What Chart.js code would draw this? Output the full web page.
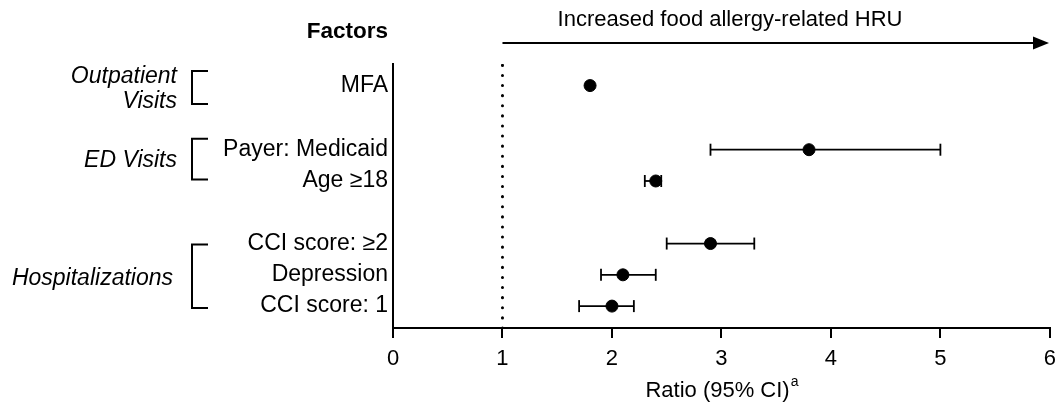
<!DOCTYPE html>
<html>
<head>
<meta charset="utf-8">
<script src="https://cdn.jsdelivr.net/npm/chart.js@4.4.1/dist/chart.umd.min.js"></script>
<style>
  html, body { margin: 0; padding: 0; background: #fff; }
  #wrap { width: 1064px; height: 410px; position: relative; }
</style>
</head>
<body>
<div id="wrap"><canvas id="forest"></canvas></div>
<script>
// rows, bottom to top (y position on a linear scale, gaps between groups)
const factors = ['CCI score: 1', 'Depression', 'CCI score: ≥2', 'Age ≥18', 'Payer: Medicaid', 'MFA'];
const rowPos  = [0, 1, 2, 4, 5, 7.05];
const ratio   = [2.0, 2.1, 2.9, 2.4, 3.8, 1.8];
const ciLow   = [1.7, 1.9, 2.5, 2.3, 2.9, null];
const ciHigh  = [2.2, 2.4, 3.3, 2.45, 5.0, null];
const xTicks  = [0, 1, 2, 3, 4, 5, 6];

// groups of rows for the brackets on the left
const groupNames = [['Outpatient', 'Visits'], ['ED Visits'], ['Hospitalizations']];
const groupFrom  = [6.46, 4.05, -0.06];
const groupTo    = [7.52, 5.35, 1.97];

const FONT = '"Liberation Sans", Arial, sans-serif';
const refValue = 1;

const datasets = [];
datasets.push({
    type: 'scatter',
    data: ratio.map((v, i) => ({ x: v, y: rowPos[i] })),
    backgroundColor: '#000',
    borderColor: '#000',
    pointRadius: 6,
    pointHoverRadius: 6
});
ciLow.forEach((lo, i) => {
    if (lo === null) return;
    datasets.push({
        type: 'line',
        data: [{ x: lo, y: rowPos[i] }, { x: ciHigh[i], y: rowPos[i] }],
        borderColor: '#000',
        borderWidth: 1.8,
        pointStyle: 'line',
        pointRotation: 90,
        pointRadius: 6,
        pointBorderWidth: 1.8,
        pointBorderColor: '#000'
    });
});
// dotted reference line at ratio = 1
datasets.push({
    type: 'line',
    data: [{ x: refValue, y: -0.7 }, { x: refValue, y: 7.74 }],
    borderColor: '#000',
    borderWidth: 3,
    borderDash: [0.1, 10],
    borderCapStyle: 'round',
    pointRadius: 0
});

const extras = {
    id: 'extras',
    afterDraw(chart) {
        const c = chart.ctx;
        const x = chart.scales.x, y = chart.scales.y;
        c.save();
        c.fillStyle = '#000';
        c.strokeStyle = '#000';

        // header
        c.font = 'bold 22.5px ' + FONT;
        c.textAlign = 'right';
        c.textBaseline = 'middle';
        c.fillText('Factors', 388, 32);

        // arrow
        c.font = '22px ' + FONT;
        c.textAlign = 'center';
        c.fillText('Increased food allergy-related HRU', 730, 20);
        c.lineWidth = 2;
        c.beginPath();
        c.moveTo(x.getPixelForValue(refValue), 43);
        c.lineTo(1034, 43);
        c.stroke();
        c.beginPath();
        c.moveTo(1049, 43);
        c.lineTo(1033, 36.5);
        c.lineTo(1033, 49.5);
        c.closePath();
        c.fill();

        // group labels and brackets
        c.font = 'italic 23px ' + FONT;
        c.textAlign = 'right';
        c.lineWidth = 2;
        groupNames.forEach((lines, g) => {
            const top = y.getPixelForValue(groupTo[g]);
            const bot = y.getPixelForValue(groupFrom[g]);
            const mid = (top + bot) / 2;
            const lh = 25;
            const right = lines[0] === 'Hospitalizations' ? 173 : 177;
            lines.forEach((t, k) => {
                c.fillText(t, right, mid + 2 + (k - (lines.length - 1) / 2) * lh);
            });
            c.beginPath();
            c.moveTo(208, top);
            c.lineTo(192, top);
            c.lineTo(192, bot);
            c.lineTo(208, bot);
            c.stroke();
        });

        // x axis title with superscript
        const title = 'Ratio (95% CI)';
        c.font = '22px ' + FONT;
        const w1 = c.measureText(title).width;
        c.font = '14px ' + FONT;
        const w2 = c.measureText('a').width;
        const cx = (chart.chartArea.left + chart.chartArea.right) / 2;
        const sx = cx - (w1 + w2) / 2;
        c.textAlign = 'left';
        c.font = '22px ' + FONT;
        c.fillText(title, sx, 391);
        c.font = '14px ' + FONT;
        c.fillText('a', sx + w1 + 1, 382);
        c.restore();
    }
};

new Chart(document.getElementById('forest'), {
    data: { datasets: datasets },
    options: {
        responsive: true,
        maintainAspectRatio: false,
        animation: false,
        layout: { padding: { top: 64, right: 5, left: 0, bottom: 0 } },
        plugins: {
            legend: { display: false },
            tooltip: { enabled: false }
        },
        scales: {
            x: {
                type: 'linear',
                min: 0,
                max: 6,
                afterBuildTicks: axis => { axis.ticks = xTicks.map(v => ({ value: v })); },
                afterFit: axis => { axis.height = 82; },
                grid: { drawOnChartArea: false, tickLength: 10, color: '#000', lineWidth: 2 },
                border: { color: '#000', width: 2 },
                ticks: { color: '#000', padding: 8, font: { family: FONT, size: 22 } }
            },
            y: {
                type: 'linear',
                min: -0.7,
                max: 7.74,
                afterBuildTicks: axis => { axis.ticks = rowPos.map(v => ({ value: v })); },
                afterFit: axis => { axis.width = 393; },
                grid: { display: false, drawTicks: false },
                border: { color: '#000', width: 2 },
                ticks: {
                    color: '#000',
                    padding: 5,
                    font: { family: FONT, size: 23 },
                    callback: v => factors[rowPos.indexOf(v)]
                }
            }
        }
    },
    plugins: [extras]
});
</script>
</body>
</html>
